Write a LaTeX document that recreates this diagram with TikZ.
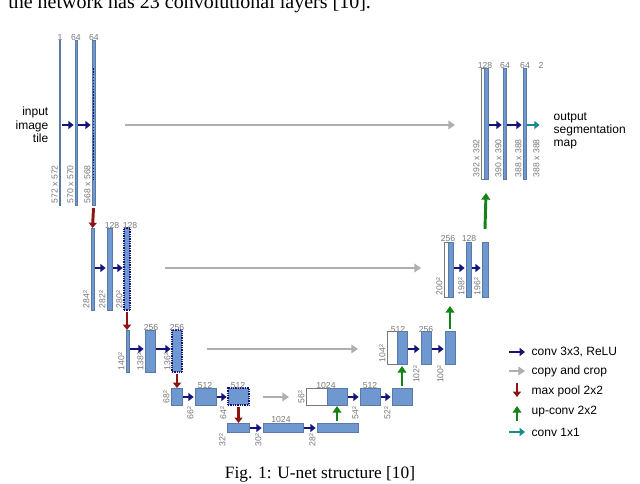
\documentclass[tikz,border=0pt]{standalone}
\usepackage{fontspec}
\setmainfont{Liberation Serif}
\newfontfamily\lsans{Liberation Sans}
\usetikzlibrary{arrows.meta,fit}
\definecolor{barblue}{RGB}{112,152,208}
\definecolor{navy}{RGB}{20,20,120}
\definecolor{lgray}{RGB}{120,120,120}
\definecolor{cpgray}{RGB}{175,175,175}
\definecolor{pool}{RGB}{140,20,20}
\definecolor{upg}{RGB}{20,130,20}
\definecolor{teal1}{RGB}{20,140,140}
\tikzset{
  barst/.style={fill=barblue,draw=barblue!80!black,line width=0.3pt,inner sep=0pt,outer sep=0pt},
  dotbar/.style={barst,draw=navy,densely dotted,line width=0.8pt},
  whitebar/.style={fill=white,draw=lgray,line width=0.4pt,inner sep=0pt,outer sep=0pt},
  chlab/.style={font=\lsans\fontsize{6.5}{7}\selectfont,text=lgray,anchor=south,inner sep=1pt},
  szlab/.style={font=\lsans\fontsize{6.5}{7}\selectfont,text=lgray,rotate=90,anchor=south west,inner sep=1pt},
  szlow/.style={szlab,anchor=south east},
  conv/.style={navy,line width=2.2pt,-{Triangle[length=4pt,width=6pt]},shorten >=1pt,shorten <=1pt},
  copyc/.style={cpgray,line width=2.2pt,-{Triangle[length=5pt,width=6.5pt]}},
  poolar/.style={pool,line width=2.2pt,-{Triangle[length=4pt,width=6pt]}},
  upar/.style={upg,line width=2.2pt,-{Triangle[length=5pt,width=6.5pt]}},
  c1/.style={teal1,line width=2.2pt,-{Triangle[length=4pt,width=6pt]},shorten >=1pt,shorten <=1pt},
  txt/.style={font=\lsans\fontsize{9}{10}\selectfont,align=left},
}
\newcommand{\ubar}[6]{\node[#6,fit={(#2,#3)(#4,#5)}] (#1) {};}
\begin{document}
\begin{tikzpicture}[x=0.75pt,y=-0.75pt]
\clip (0,0) rectangle (640,484);
\useasboundingbox (0,0) rectangle (640,484);
\node[anchor=base west,inner sep=0pt,font=\fontsize{15}{16}\selectfont] (top) at (8,9) {the network has 23 convolutional layers [10].};
\node[inner sep=0pt,font=\fontsize{13}{14}\selectfont] (cap) at (320,474) {Fig. 1: U-net structure [10]};
% level 1
\ubar{a1}{59.5}{40}{60.5}{205}{barst}
\ubar{a2}{75}{40}{77}{205}{barst}
\ubar{a3}{92}{40}{95}{205}{barst}
\draw[navy,densely dotted,line width=1.2pt] (93.5,68) -- (93.5,180);
\node[chlab] at (60,42) {1};
\node[chlab] at (76,42) {64};
\node[chlab] at (94,42) {64};
\node[szlab] at (a1.south west) {572 x 572};
\node[szlab] at (a2.south west) {570 x 570};
\node[szlab] at (a3.south west) {568 x 568};
\node[txt,align=right,anchor=east] (inp) at (53,125) {input\\image\\tile};
\draw[conv] (a1.east |- 0,125) -- (a2.west |- 0,125);
\draw[conv] (a2.east |- 0,125) -- (a3.west |- 0,125);
% level 2
\ubar{b1}{91}{228}{94}{310}{barst}
\ubar{b2}{107}{228}{112}{310}{barst}
\ubar{b3}{124}{228}{130}{310}{dotbar}
\node[chlab] at (112,230) {128};
\node[chlab] at (130,230) {128};
\node[szlab] at (b1.south west) {284²};
\node[szlab] at (b2.south west) {282²};
\node[szlab] at (b3.south west) {280²};
\draw[conv] (b1.east |- 0,268) -- (b2.west |- 0,268);
\draw[conv] (b2.east |- 0,268) -- (b3.west |- 0,268);
\draw[poolar] (a3.south) ++(0,3) -- (b1.north);
% level 3
\ubar{c1}{126}{330}{129}{372}{barst}
\ubar{c2}{145}{330}{155}{372}{barst}
\ubar{c3}{172}{330}{182}{372}{dotbar}
\node[chlab] at (151,332) {256};
\node[chlab] at (177,332) {256};
\node[szlab] at (c1.south west) {140²};
\node[szlab] at (c2.south west) {138²};
\node[szlab] at (c3.south west) {136²};
\draw[conv] (c1.east |- 0,349) -- (c2.west |- 0,349);
\draw[conv] (c2.east |- 0,349) -- (c3.west |- 0,349);
\draw[poolar] (b3.south) ++(0,2) -- (c1.north -| b3.south);
% level 4
\ubar{d1}{171}{388}{182}{405}{barst}
\ubar{d2}{195}{388}{216}{405}{barst}
\ubar{d3}{228}{388}{249}{405}{dotbar}
\node[chlab] at (205,390) {512};
\node[chlab] at (238,390) {512};
\node[szlab] at (d1.south west) {68²};
\node[szlow] at (d2.south west) {66²};
\node[szlow] at (d3.south west) {64²};
\draw[conv] (d1.east |- 0,397) -- (d2.west |- 0,397);
\draw[conv] (d2.east |- 0,397) -- (d3.west |- 0,397);
\draw[poolar] (c3.south) ++(0,2) -- (d1.north -| c3.south);
% level 5
\ubar{e1}{227}{423}{249}{432}{barst}
\ubar{e2}{263}{423}{303}{432}{barst}
\ubar{e3}{317}{423}{358}{432}{barst}
\node[chlab] at (281,424) {1024};
\node[szlow] at (e1.south west) {32²};
\node[szlow] at (e2.south west) {30²};
\node[szlow] at (e3.south west) {28²};
\draw[conv] (e1.east |- 0,428) -- (e2.west |- 0,428);
\draw[conv] (e2.east |- 0,428) -- (e3.west |- 0,428);
\draw[poolar] (d3.south) ++(0,2) -- (e1.north -| d3.south);
% up level 4
\ubar{f0}{306}{388}{327}{405}{whitebar}
\ubar{f1}{327}{388}{347}{405}{barst}
\ubar{f2}{360}{388}{380}{405}{barst}
\ubar{f3}{392}{388}{412}{405}{barst}
\node[chlab] at (326,390) {1024};
\node[chlab] at (370,390) {512};
\node[szlab] at (f0.south west) {56²};
\node[szlow] at (f2.south west) {54²};
\node[szlow] at (f3.south west) {52²};
\draw[conv] (f1.east |- 0,397) -- (f2.west |- 0,397);
\draw[conv] (f2.east |- 0,397) -- (f3.west |- 0,397);
\draw[upar] (337,421) -- (337,406);
% up level 3
\ubar{g0}{387}{331}{397}{364}{whitebar}
\ubar{g1}{397}{331}{407}{364}{barst}
\ubar{g2}{421}{331}{431}{364}{barst}
\ubar{g3}{445}{331}{455}{364}{barst}
\node[chlab] at (398,334) {512};
\node[chlab] at (426,334) {256};
\node[szlab] at (g0.south west) {104²};
\node[szlow] at (g2.south west) {102²};
\node[szlow] at (g3.south west) {100²};
\draw[conv] (g1.east |- 0,349) -- (g2.west |- 0,349);
\draw[conv] (g2.east |- 0,349) -- (g3.west |- 0,349);
\draw[upar] (f3.north) ++(0,-2) -- (402,366);
% up level 2
\ubar{h0}{444}{242}{448}{297}{whitebar}
\ubar{h1}{448}{242}{453}{297}{barst}
\ubar{h2}{466}{242}{471}{297}{barst}
\ubar{h3}{482}{242}{488}{297}{barst}
\node[chlab] at (448,243) {256};
\node[chlab] at (469,243) {128};
\node[szlab] at (h0.south west) {200²};
\node[szlab] at (h2.south west) {198²};
\node[szlab] at (h3.south west) {196²};
\draw[conv] (h1.east |- 0,268) -- (h2.west |- 0,268);
\draw[conv] (h2.east |- 0,268) -- (h3.west |- 0,268);
\draw[upar] (g3.north) ++(0,-2) -- (450,306);
% up level 1
\ubar{k0}{481}{68}{484}{179}{whitebar}
\ubar{k1}{484}{68}{488}{179}{barst}
\ubar{k2}{503}{68}{506}{179}{barst}
\ubar{k3}{523}{68}{526}{179}{barst}
\coordinate (k4) at (541,125);
\node[chlab] at (485,70) {128};
\node[chlab] at (505,70) {64};
\node[chlab] at (525,70) {64};
\node[chlab] at (541,70) {2};
\node[szlab] at (k0.south west) {392 x 392};
\node[szlab] at (k2.south west) {390 x 390};
\node[szlab] at (k3.south west) {388 x 388};
\node[szlab] at (541,179) {388 x 388};
\draw[conv] (k1.east |- 0,125) -- (k2.west |- 0,125);
\draw[conv] (k2.east |- 0,125) -- (k3.west |- 0,125);
\draw[c1] (k3.east |- 0,125) -- (k4);
\node[txt,anchor=west] (outp) at (549,131) {output\\segmentation\\map};
\draw[upar] (h3.north) ++(0,-13) -- (486,193);
% copy and crop
\draw[copyc] (125,125) -- (455,125);
\draw[copyc] (165,268) -- (421,268);
\draw[copyc] (207,349) -- (358,349);
\draw[copyc] (263,397) -- (289,397);
% legend
\coordinate (l1) at (509,352); \coordinate (l1e) at (525,352);
\coordinate (l2) at (509,371); \coordinate (l2e) at (525,371);
\draw[conv,shorten >=0pt,shorten <=0pt] (l1) -- (l1e);
\draw[copyc] (l2) -- (l2e);
\draw[poolar] (517,383) -- (517,397);
\draw[upar] (517,421) -- (517,406);
\draw[c1,shorten >=0pt,shorten <=0pt] (509,432) -- (525,432);
\node[txt,anchor=west] at (527,352) {conv 3x3, ReLU};
\node[txt,anchor=west] at (527,371) {copy and crop};
\node[txt,anchor=west] at (527,391) {max pool 2x2};
\node[txt,anchor=west] at (527,412) {up-conv 2x2};
\node[txt,anchor=west] at (527,432) {conv 1x1};
\end{tikzpicture}
\end{document}
